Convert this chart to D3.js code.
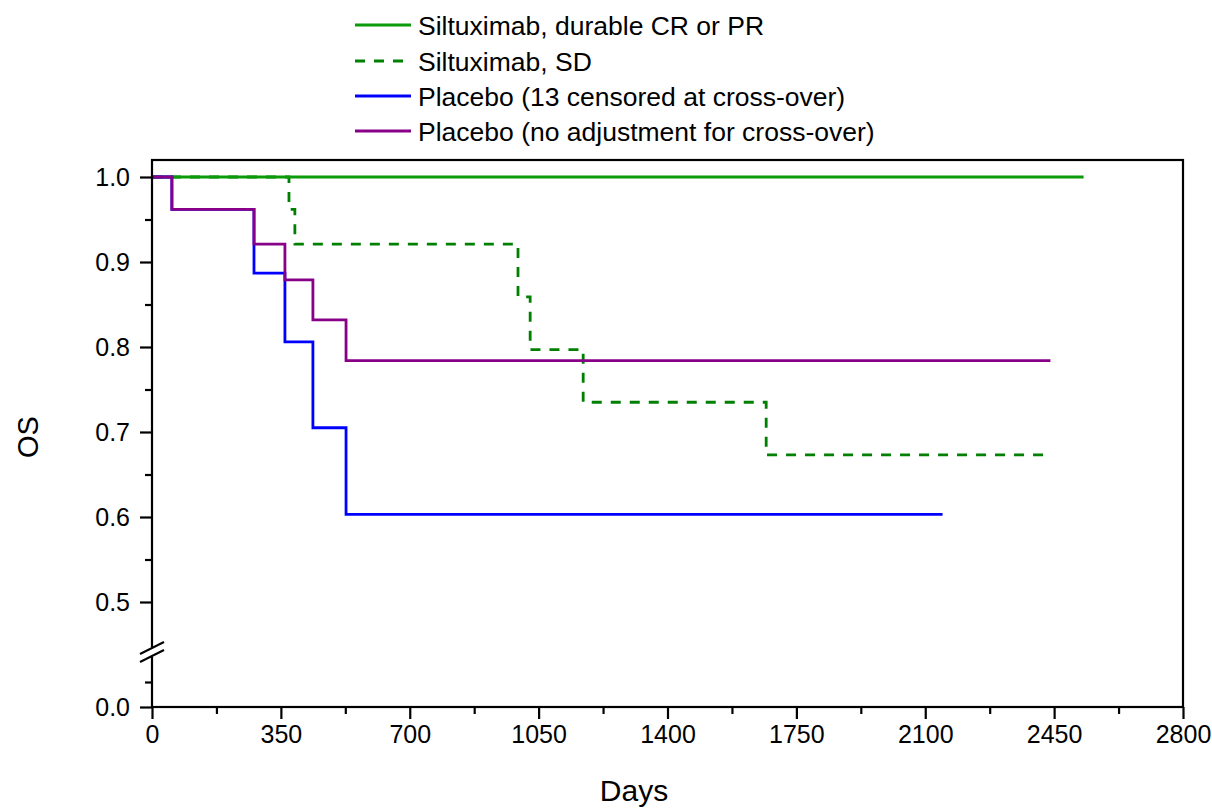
<!DOCTYPE html>
<html><head><meta charset="utf-8">
<script src="https://cdn.jsdelivr.net/npm/d3@7"></script>
<style>body{margin:0;background:#fff}svg{display:block}text{font-family:"Liberation Sans",Arial,sans-serif;fill:#000}</style>
</head><body><svg id="c" width="1212" height="809"></svg>
<script>
// ---- data ----
const seriesNames = ["Siltuximab, durable CR or PR","Siltuximab, SD","Placebo (13 censored at cross-over)","Placebo (no adjustment for cross-over)"];
const crprDays = [0, 2530];
const crprOS   = [1.0, 1.0];
const sdDays = [0, 372, 388, 994, 1027, 1171, 1668, 2420];
const sdOS   = [1.0, 0.962, 0.921, 0.859, 0.797, 0.735, 0.673, 0.673];
const placeboCensDays = [0, 54, 277, 361, 437, 527, 2147];
const placeboCensOS   = [1.0, 0.962, 0.887, 0.806, 0.705, 0.603, 0.603];
const placeboAllDays = [0, 54, 277, 361, 437, 527, 2440];
const placeboAllOS   = [1.0, 0.962, 0.921, 0.879, 0.832, 0.784, 0.784];
const xTicks = [0, 350, 700, 1050, 1400, 1750, 2100, 2450, 2800];
const xMinor = [175, 525, 875, 1225, 1575, 1925, 2275, 2625];
const yTicks = [0.0, 0.5, 0.6, 0.7, 0.8, 0.9, 1.0];
const yMinor = [0.05, 0.55, 0.65, 0.75, 0.85, 0.95];

const svg = d3.select("#c");
const L=152, R=1183, T=160, B=707;
const x = d3.scaleLinear().domain([0,2800]).range([L,R]);
// broken axis: lower segment 0..0.1, upper 0.44..1.02
const y = d3.scaleLinear().domain([0,0.1,0.44,1.02]).range([B,657,653,T]);

const series = [
  {days:crprDays, os:crprOS, color:"#0a9a0a", dash:null},
  {days:sdDays, os:sdOS, color:"#008000", dash:"10,9"},
  {days:placeboCensDays, os:placeboCensOS, color:"#0000ff", dash:null},
  {days:placeboAllDays, os:placeboAllOS, color:"#880088", dash:null}
];
const line = d3.line().x(d=>x(d[0])).y(d=>y(d[1])).curve(d3.curveStepAfter);
[1,0,2,3].forEach(i=>{
  const s=series[i];
  const pts=s.days.map((d,j)=>[d,s.os[j]]);
  svg.append("path").attr("d",line(pts)).attr("fill","none")
    .attr("stroke",s.color).attr("stroke-width",2.8)
    .attr("stroke-dasharray",s.dash);
});
// frame
svg.append("rect").attr("x",L).attr("y",T).attr("width",R-L).attr("height",B-T)
  .attr("fill","none").attr("stroke","#000").attr("stroke-width",2.2);
const tickFont = "25px";
// x ticks
const gx = svg.append("g").attr("transform",`translate(0,${B})`);
gx.call(d3.axisBottom(x).tickValues(xTicks).tickSize(12).tickPadding(6).tickFormat(d3.format("d")));
gx.append("g").call(d3.axisBottom(x).tickValues(xMinor).tickSize(7).tickFormat(""));
gx.selectAll(".domain").remove();
gx.selectAll("line").attr("stroke","#000").attr("stroke-width",2.2);
gx.selectAll("text").style("font-size",tickFont).style("font-family","Liberation Sans, Arial, sans-serif");
// y ticks
const gy = svg.append("g").attr("transform",`translate(${L},0)`);
gy.call(d3.axisLeft(y).tickValues(yTicks).tickSize(12).tickPadding(10).tickFormat(d3.format(".1f")));
gy.append("g").call(d3.axisLeft(y).tickValues(yMinor).tickSize(7).tickFormat(""));
gy.selectAll(".domain").remove();
gy.selectAll("line").attr("stroke","#000").attr("stroke-width",2.2);
gy.selectAll("text").style("font-size",tickFont).style("font-family","Liberation Sans, Arial, sans-serif");
// axis break
const by = 652;
svg.append("rect").attr("x",L-3).attr("y",by-5).attr("width",8).attr("height",10).attr("fill","#fff");
[-4,4].forEach(o=>{
  svg.append("line").attr("x1",L-12).attr("y1",by+o+6).attr("x2",L+12).attr("y2",by+o-6)
    .attr("stroke","#000").attr("stroke-width",2);
});
// axis titles
svg.append("text").attr("x",634).attr("y",801).attr("text-anchor","middle").style("font-size","30px").text("Days");
svg.append("text").attr("transform","translate(38,437) rotate(-90)").attr("text-anchor","middle").style("font-size","29px").text("OS");
// legend
const legY=[25,61,96,131];
series.forEach((s,i)=>{
  svg.append("line").attr("x1",355).attr("x2",411).attr("y1",legY[i]).attr("y2",legY[i])
    .attr("stroke",s.color).attr("stroke-width",2.8).attr("stroke-dasharray",s.dash?"10,9":null);
  svg.append("text").attr("x",418).attr("y",legY[i]).attr("dy","0.36em").style("font-size","26.5px").text(seriesNames[i]);
});
</script></body></html>
